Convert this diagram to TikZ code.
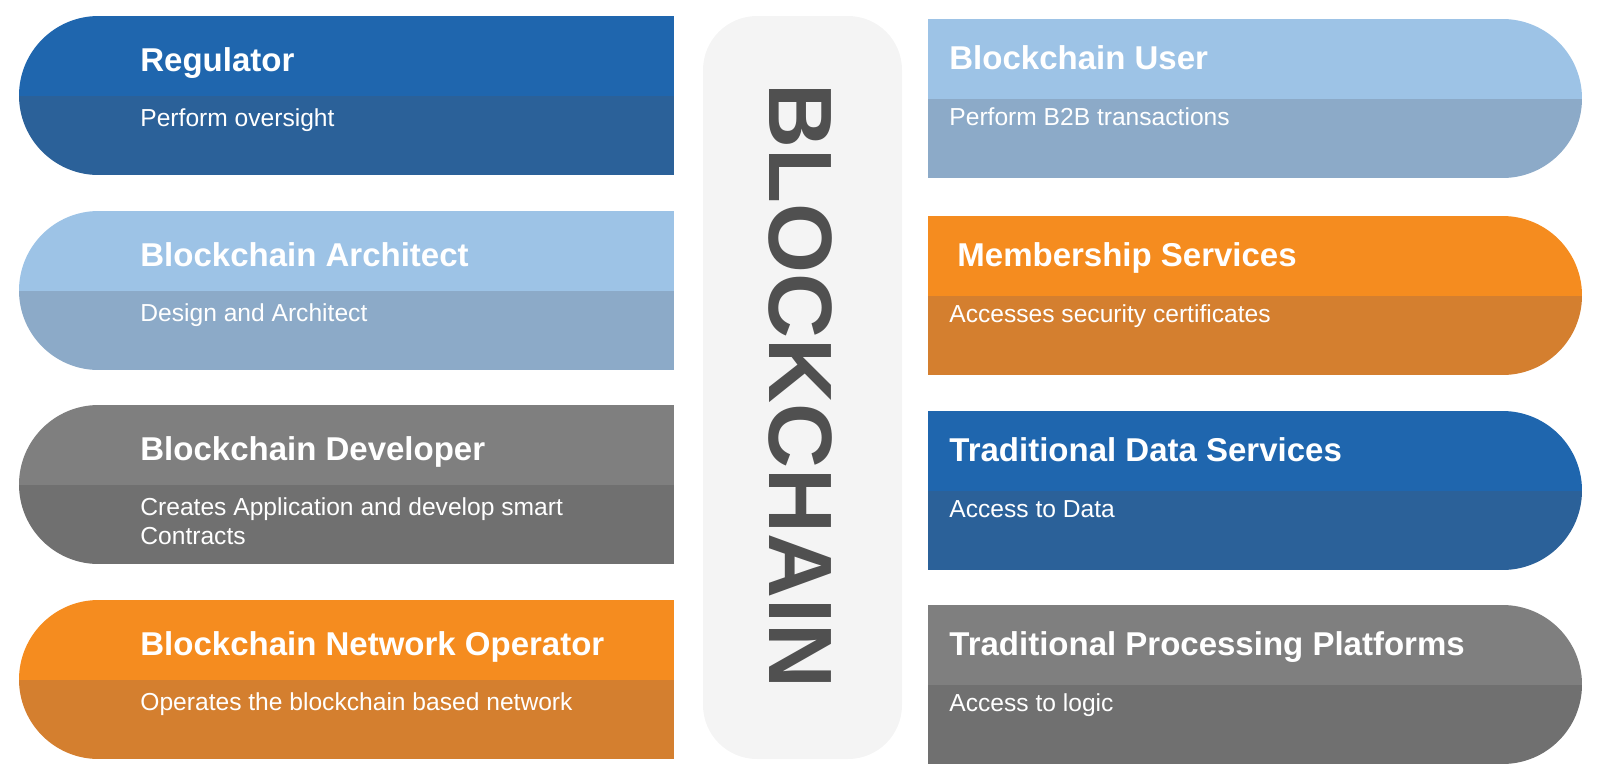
\documentclass[tikz,border=0pt]{standalone}
\usepackage{fontspec}
\setmainfont{Liberation Sans}
\usepackage{xcolor}
\definecolor{bluetop}{RGB}{31,102,174}
\definecolor{bluebot}{RGB}{43,97,153}
\definecolor{lightbluetop}{RGB}{157,195,230}
\definecolor{lightbluebot}{RGB}{140,170,200}
\definecolor{graytop}{RGB}{127,127,127}
\definecolor{graybot}{RGB}{112,112,112}
\definecolor{orangetop}{RGB}{245,140,31}
\definecolor{orangebot}{RGB}{212,127,47}
\definecolor{pillgray}{RGB}{244,244,244}
\definecolor{wordgray}{RGB}{80,80,80}

\tikzset{
  cardtitle/.style={anchor=base west, inner sep=0pt, text=white,
    font=\fontsize{16.5}{20}\selectfont\bfseries},
  cardtext/.style={anchor=base west, inner sep=0pt, text=white,
    font=\fontsize{12.3}{14.5}\selectfont},
}

\begin{document}
\begin{tikzpicture}[x=0.5pt, y=-0.5pt]
\useasboundingbox (0,0) rectangle (1600,782);

% centre column
\node[fill=pillgray, rounded corners=27pt, minimum width=99.5pt, minimum height=371.5pt, inner sep=0pt] (pill) at (802.5,387.5) {};
\node[rotate=-90, inner sep=0pt, text=wordgray, font=\fontsize{45}{45}\selectfont\bfseries] (word) at (800,386) {BLOCKCHAIN};

% left cards, round end on the left
\foreach \i/\y/\ct/\cb/\title/\sub in {
  1/16/bluetop/bluebot/Regulator/{Perform oversight},
  2/211/lightbluetop/lightbluebot/Blockchain Architect/{Design and Architect},
  3/405/graytop/graybot/Blockchain Developer/{Creates Application and develop smart\\Contracts},
  4/600/orangetop/orangebot/Blockchain Network Operator/{Operates the blockchain based network}} {
  \begin{scope}
    \clip[rounded corners=39.75pt] (19,\y) rectangle (900,\y+159);
    \clip (19,\y) rectangle (674,\y+159);
    \fill[\ct] (19,\y) rectangle (674,\y+80);
    \fill[\cb] (19,\y+80) rectangle (674,\y+159);
  \end{scope}
  \node[cardtitle] (ltitle\i) at (140,\y+55) {\title};
  \node[cardtext] (lsub\i) at (140,\y+110) {\begin{tabular}[t]{@{}l@{}}\sub\end{tabular}};
}

% right cards, round end on the right
\foreach \i/\y/\tx/\ct/\cb/\title/\sub in {
  1/19/949/lightbluetop/lightbluebot/Blockchain User/{Perform B2B transactions},
  2/216/957/orangetop/orangebot/Membership Services/{Accesses security certificates},
  3/411/949/bluetop/bluebot/Traditional Data Services/{Access to Data},
  4/605/949/graytop/graybot/Traditional Processing Platforms/{Access to logic}} {
  \begin{scope}
    \clip[rounded corners=39.75pt] (700,\y) rectangle (1582,\y+159);
    \clip (928,\y) rectangle (1582,\y+159);
    \fill[\ct] (928,\y) rectangle (1582,\y+80);
    \fill[\cb] (928,\y+80) rectangle (1582,\y+159);
  \end{scope}
  \node[cardtitle] (rtitle\i) at (\tx,\y+50) {\title};
  \node[cardtext] (rsub\i) at (949,\y+106) {\sub};
}
\end{tikzpicture}
\end{document}
